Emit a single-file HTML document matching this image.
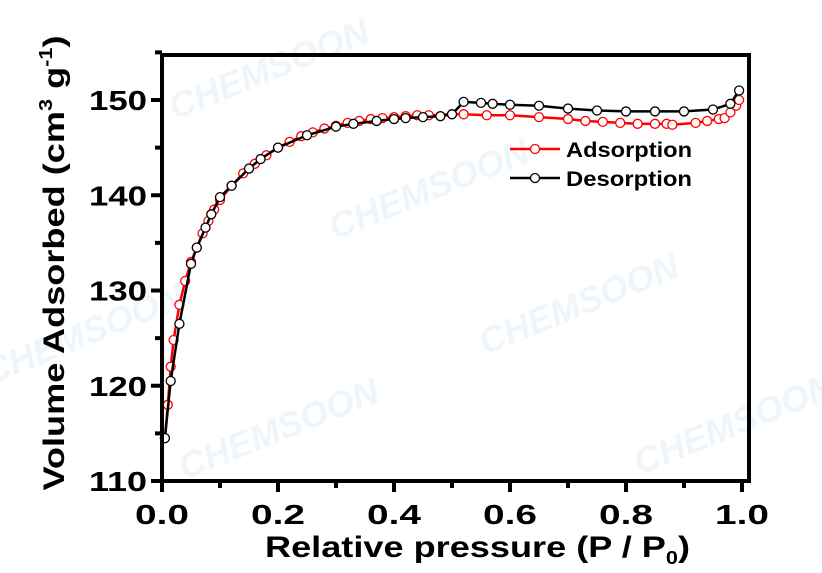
<!DOCTYPE html>
<html><head><meta charset="utf-8"><style>
body{margin:0;background:#fff;}
svg{display:block;font-family:"Liberation Sans",Arial,sans-serif;font-weight:bold;}
</style></head><body>
<svg id="s" width="822" height="573" xmlns="http://www.w3.org/2000/svg">
<g fill="#eef6fc" font-size="36" font-style="italic">
<text transform="translate(175,120) rotate(-22)">CHEMSOON</text>
<text transform="translate(335,240) rotate(-22)">CHEMSOON</text>
<text transform="translate(485,355) rotate(-22)">CHEMSOON</text>
<text transform="translate(-10,385) rotate(-22)">CHEMSOON</text>
<text transform="translate(185,480) rotate(-22)">CHEMSOON</text>
<text transform="translate(640,475) rotate(-22)">CHEMSOON</text>
</g>
<g id="plot"></g>
<rect x="162" y="55" width="587" height="426" fill="none" stroke="#000" stroke-width="4"/>
<g id="ax" stroke="#000" stroke-width="4"></g>
<g id="lab" font-size="28" fill="#000"></g>
<line x1="510" y1="149" x2="560" y2="149" stroke="red" stroke-width="2.5"/>
<circle cx="535" cy="149" r="4.5" fill="#fff" stroke="red" stroke-width="1.3"/>
<line x1="510" y1="178" x2="560" y2="178" stroke="#000" stroke-width="2.5"/>
<circle cx="535" cy="178" r="4.5" fill="#fff" stroke="#000" stroke-width="1.3"/>
<text x="566" y="157" font-size="21" textLength="126" lengthAdjust="spacingAndGlyphs">Adsorption</text>
<text x="566" y="186" font-size="21" textLength="126" lengthAdjust="spacingAndGlyphs">Desorption</text>
<text transform="translate(64,263) rotate(-90)" text-anchor="middle" font-size="30" textLength="455" lengthAdjust="spacingAndGlyphs">Volume Adsorbed (cm<tspan font-size="18" dy="-12">3</tspan><tspan dy="12"> g</tspan><tspan font-size="18" dy="-12">-1</tspan><tspan dy="12">)</tspan></text>
<text x="265" y="557" font-size="30" textLength="425" lengthAdjust="spacingAndGlyphs">Relative pressure (P / P<tspan font-size="18" dy="7">0</tspan><tspan dy="-7">)</tspan></text>
</svg>
<script>
var X=p=>162+p*580, Y=v=>481-(v-110)*9.525;
var ad=[[0.005,114.5],[0.01,118],[0.015,122],[0.02,124.8],[0.03,128.5],[0.04,131],[0.05,133],[0.06,134.5],[0.07,136],[0.08,137.3],[0.09,138.5],[0.1,139.5],[0.12,141],[0.14,142.3],[0.16,143.3],[0.18,144.2],[0.2,145],[0.22,145.6],[0.24,146.2],[0.26,146.6],[0.28,147],[0.3,147.3],[0.32,147.6],[0.34,147.8],[0.36,148],[0.38,148.1],[0.4,148.2],[0.42,148.3],[0.44,148.4],[0.46,148.4],[0.5,148.5],[0.52,148.5],[0.56,148.4],[0.6,148.4],[0.65,148.2],[0.7,148],[0.73,147.8],[0.76,147.7],[0.79,147.6],[0.82,147.5],[0.85,147.5],[0.87,147.5],[0.88,147.4],[0.92,147.6],[0.94,147.8],[0.96,148],[0.97,148.1],[0.98,148.7],[0.99,149.4],[0.995,150]];
var de=[[0.995,151],[0.98,149.6],[0.95,149],[0.9,148.8],[0.85,148.8],[0.8,148.8],[0.75,148.9],[0.7,149.1],[0.65,149.4],[0.6,149.5],[0.57,149.6],[0.55,149.7],[0.52,149.8],[0.5,148.5],[0.48,148.3],[0.45,148.2],[0.42,148.1],[0.4,148],[0.37,147.8],[0.33,147.5],[0.3,147.2],[0.25,146.3],[0.2,145],[0.17,143.8],[0.15,142.8],[0.12,141],[0.1,139.8],[0.085,138],[0.075,136.6],[0.06,134.5],[0.05,132.8],[0.03,126.5],[0.015,120.5],[0.005,114.5]];
function ser(d,c){var s='<polyline fill="none" stroke="'+c+'" stroke-width="2.5" points="'+d.map(q=>X(q[0])+','+Y(q[1])).join(' ')+'"/>';
d.forEach(q=>s+='<circle cx="'+X(q[0])+'" cy="'+Y(q[1])+'" r="4.5" fill="#fff" stroke="'+c+'" stroke-width="1.3"/>');return s;}
document.getElementById('plot').innerHTML=ser(ad,'red')+ser(de,'#000');
var a='',l='';
for(var i=0;i<=10;i++){var x=X(i/10);a+='<line x1="'+x+'" y1="481" x2="'+x+'" y2="'+(i%2?488:492)+'"/>';if(i%2==0)l+='<text x="'+x+'" y="524" text-anchor="middle" textLength="54" lengthAdjust="spacingAndGlyphs">'+(i/10).toFixed(1)+'</text>';}
for(var v=110;v<=155;v+=5){var y=Y(v);a+='<line x1="162" y1="'+y+'" x2="'+(v%10?155:151)+'" y2="'+y+'"/>';if(v%10==0)l+='<text x="147" y="'+(y+10)+'" text-anchor="end" textLength="58" lengthAdjust="spacingAndGlyphs">'+v+'</text>';}
document.getElementById('ax').innerHTML=a;document.getElementById('lab').innerHTML=l;
</script>
</body></html>
